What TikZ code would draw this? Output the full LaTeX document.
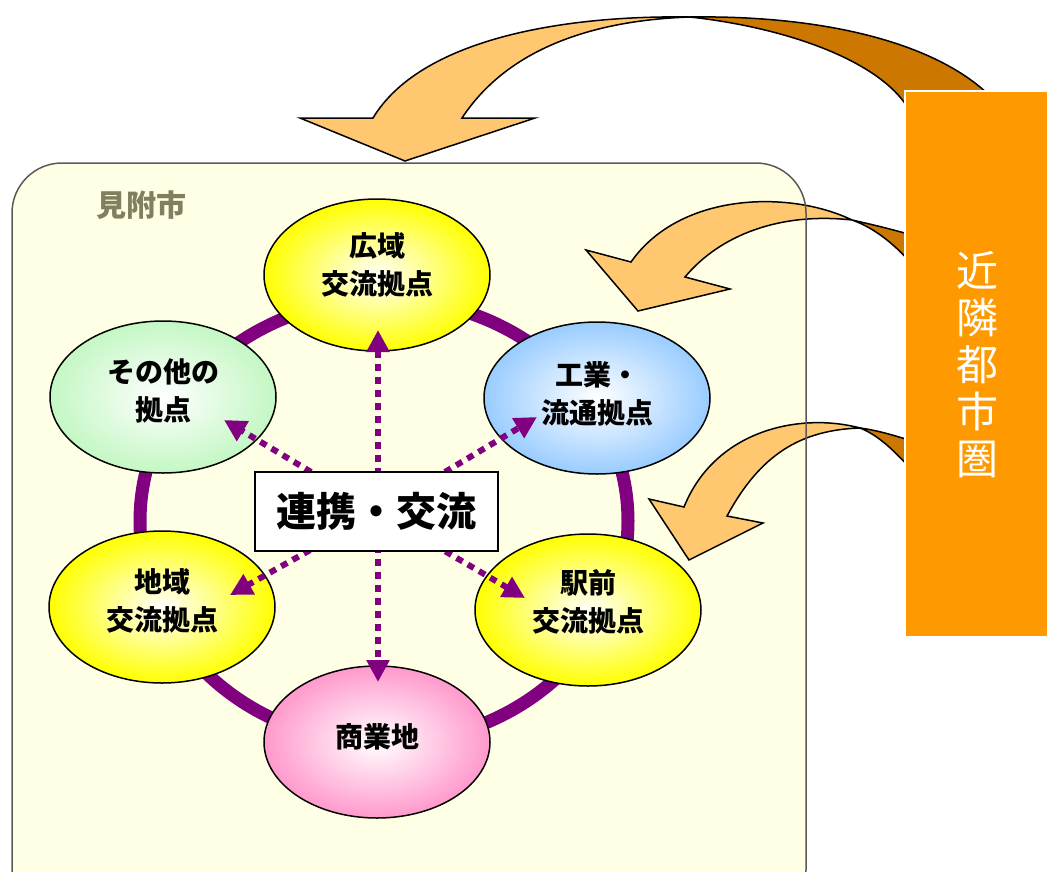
\documentclass[tikz,border=0pt]{standalone}
\usepackage{fontspec}
\setmainfont{Noto Sans CJK JP}
\usetikzlibrary{shapes.geometric,arrows.meta}
\definecolor{cityfill}{HTML}{FFFFE5}
\definecolor{cityline}{HTML}{5A5A5A}
\definecolor{citytext}{HTML}{80805F}
\definecolor{ringpurple}{HTML}{800080}
\definecolor{arrowlight}{HTML}{FFC870}
\definecolor{arrowdark}{HTML}{CC7700}
\definecolor{boxorange}{HTML}{FF9900}
\definecolor{hubyellow}{HTML}{FFFF00}
\definecolor{hubgreen}{HTML}{C4F7C4}
\definecolor{hubblue}{HTML}{99CCFF}
\definecolor{hubpink}{HTML}{FF99CC}
\tikzset{
  hub/.style={ellipse, draw=black, line width=1.5pt, minimum width=226pt, minimum height=152pt,
    align=center, inner sep=0pt, font=\bfseries\fontsize{28}{38}\selectfont},
  linkarrow/.style={draw=ringpurple, line width=6pt, dash pattern=on 7pt off 6pt,
    -{Triangle[length=22pt,width=22pt]}},
  bigarrowlight/.style={fill=arrowlight, draw=black, line width=1.5pt, line join=miter},
  bigarrowdark/.style={fill=arrowdark, draw=black, line width=1.5pt, line join=miter},
}
\begin{document}
\begin{tikzpicture}[x=1pt,y=-1pt]
\useasboundingbox (0,0) rectangle (1047,871);
% city area
\fill[cityfill, rounded corners=50pt] (12,163) rectangle (806,920);
\node[font=\bfseries\fontsize{30}{32}\selectfont, text=citytext] (cityname) at (141,205) {見附市};
% ring
\draw[ringpurple, line width=13pt] (384,521) ellipse [x radius=244, y radius=222];
% hubs
\node[hub, inner color=white, outer color=hubyellow, text depth=23pt] (hiroiki) at (377,275) {広域\\交流拠点};
\node[hub, inner color=white, outer color=hubgreen, text depth=15pt] (sonota) at (163,397) {その他の\\拠点};
\node[hub, inner color=white, outer color=hubblue, text depth=10pt] (kogyo) at (597,398) {工業・\\流通拠点};
\node[hub, inner color=white, outer color=hubyellow, text depth=15pt] (chiiki) at (162,607) {地域\\交流拠点};
\node[hub, inner color=white, outer color=hubyellow, text depth=19pt] (ekimae) at (588,610) {駅前\\交流拠点};
\node[hub, inner color=white, outer color=hubpink, text depth=13pt] (shogyo) at (377,742) {商業地};
% dotted links
\coordinate (ctr) at (378,512);
\coordinate (tipT) at (378,330);
\coordinate (tipB) at (378,682);
\coordinate (tipUL) at (224,420);
\coordinate (tipUR) at (537,417);
\coordinate (tipLL) at (230,595);
\coordinate (tipLR) at (525,598);
\draw[linkarrow, {Triangle[length=22pt,width=22pt]}-{Triangle[length=22pt,width=22pt]}] (tipT) -- (tipB);
\draw[linkarrow] (ctr) -- (tipUL);
\draw[linkarrow] (ctr) -- (tipUR);
\draw[linkarrow] (ctr) -- (tipLL);
\draw[linkarrow] (ctr) -- (tipLR);
% center box
\node[draw=black, fill=white, line width=1.5pt, minimum width=243pt, minimum height=79pt,
  inner sep=0pt, font=\bfseries\fontsize{40}{42}\selectfont] (renkei) at (376.5,511.5) {連携・交流};
% big curved arrows
\filldraw[bigarrowdark] (690,17) .. controls (830,15) and (940,45) .. (992,98) -- (908,108)
  .. controls (880,62) and (790,28) .. (690,17) -- cycle;
\filldraw[bigarrowlight] (373,118) -- (300,118) -- (405,161) -- (535,118) -- (462,118)
  .. controls (510,45) and (600,20) .. (690,17)
  .. controls (560,15) and (420,40) .. (373,118) -- cycle;
\filldraw[bigarrowdark] (852,220) .. controls (870,224) and (895,230) .. (915,236) -- (912,264)
  .. controls (895,245) and (875,228) .. (852,220) -- cycle;
\filldraw[bigarrowlight] (631,262) -- (586,250) -- (638,311) -- (730,289) -- (685,277)
  .. controls (720,235) and (780,212) .. (852,220)
  .. controls (790,190) and (680,192) .. (631,262) -- cycle;
\filldraw[bigarrowdark] (860,428) .. controls (875,430) and (890,434) .. (912,441) -- (912,470)
  .. controls (895,452) and (880,436) .. (860,428) -- cycle;
\filldraw[bigarrowlight] (684,507) -- (649,499) -- (689,560) -- (763,523) -- (727,516)
  .. controls (760,455) and (800,430) .. (860,428)
  .. controls (800,412) and (715,430) .. (684,507) -- cycle;
% city border on top
\draw[cityline, line width=1.5pt, rounded corners=50pt] (12,163) rectangle (806,920);
% neighbouring area box
\filldraw[fill=boxorange, draw=white, line width=2pt] (905,91) rectangle (1050,637);
\node[text=white, align=center, inner sep=0pt, font=\fontsize{42}{47}\selectfont] (kinrin) at (977,365) {近\\隣\\都\\市\\圏};
\end{tikzpicture}
\end{document}
